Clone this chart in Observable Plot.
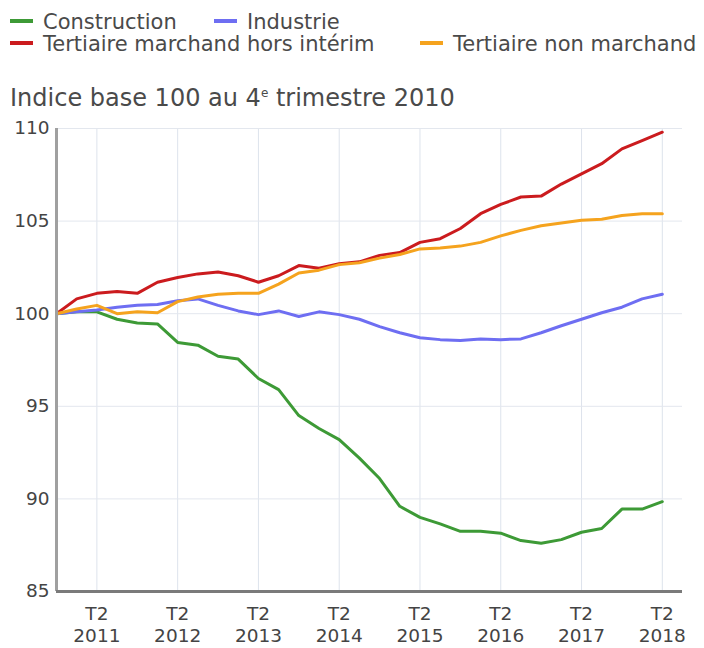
<!DOCTYPE html>
<html><head><meta charset="utf-8">
<script src="https://cdn.jsdelivr.net/npm/d3@7"></script>
<script src="https://cdn.jsdelivr.net/npm/@observablehq/plot@0.6"></script>
<style>
body{margin:0;background:#fff;font-family:"DejaVu Sans",sans-serif;color:#333;}
#wrap{position:relative;width:704px;height:648px;overflow:hidden;}
#head{position:relative;height:110px;}
.item{position:absolute;font-size:21px;line-height:24px;white-space:nowrap;color:#4a4a4a;}
.sw{display:inline-block;width:23px;height:4px;vertical-align:middle;margin-right:10px;position:relative;top:-2px;}
#sub{position:absolute;left:10px;top:79px;font-size:24px;line-height:28px;color:#4a4a4a;white-space:nowrap;}
#sub sup{font-size:12px;}
#chart{position:absolute;left:0;top:110px;}
</style></head><body>
<div id="wrap">
<div id="head"></div>
<div id="chart"></div>
</div>
<script>
const quarters = ["2010 T4","2011 T1","2011 T2","2011 T3","2011 T4","2012 T1","2012 T2","2012 T3","2012 T4",
  "2013 T1","2013 T2","2013 T3","2013 T4","2014 T1","2014 T2","2014 T3","2014 T4","2015 T1","2015 T2","2015 T3",
  "2015 T4","2016 T1","2016 T2","2016 T3","2016 T4","2017 T1","2017 T2","2017 T3","2017 T4","2018 T1","2018 T2"];
const seriesNames = ["Construction","Industrie","Tertiaire marchand hors intérim","Tertiaire non marchand"];
const seriesColors = ["#3d9a36","#6e6ef2","#cb1b1e","#f5a31e"];
const construction = [100,100.1,100.1,99.7,99.5,99.45,98.45,98.3,97.7,97.55,96.5,95.9,94.5,93.8,93.2,92.2,91.1,89.6,89.0,88.65,88.25,88.25,88.15,87.75,87.6,87.8,88.2,88.4,89.45,89.45,89.85];
const industrie = [100,100.1,100.2,100.35,100.45,100.5,100.7,100.8,100.45,100.15,99.95,100.15,99.85,100.1,99.95,99.7,99.3,98.97,98.7,98.6,98.55,98.64,98.6,98.64,98.97,99.35,99.7,100.05,100.35,100.8,101.05];
const tertMarchand = [100,100.8,101.1,101.2,101.1,101.7,101.95,102.15,102.25,102.05,101.7,102.05,102.6,102.45,102.7,102.8,103.15,103.3,103.85,104.05,104.6,105.4,105.9,106.3,106.35,107.0,107.55,108.1,108.9,109.35,109.8];
const tertNonMarchand = [100,100.25,100.45,100.0,100.1,100.05,100.65,100.9,101.05,101.1,101.1,101.6,102.2,102.35,102.65,102.75,103.0,103.2,103.5,103.55,103.65,103.85,104.2,104.5,104.75,104.9,105.05,105.1,105.3,105.4,105.4];
const yTicks = [85,90,95,100,105,110];
const xTickLabels = ["T2\n2011","T2\n2012","T2\n2013","T2\n2014","T2\n2015","T2\n2016","T2\n2017","T2\n2018"];

const seriesValues = [construction, industrie, tertMarchand, tertNonMarchand];
const data = seriesNames.flatMap((name, k) => seriesValues[k].map((v, i) => ({i, v, name, q: quarters[i]})));
const xTicks = quarters.map((q, i) => q.endsWith("T2") ? i : null).filter(d => d !== null);

// legend
const head = document.getElementById("head");
const legendPos = [[10,10],[214,10],[10,32],[420,32]];
seriesNames.forEach((n, k) => {
  const d = document.createElement("div");
  d.className = "item";
  d.style.left = legendPos[k][0] + "px";
  d.style.top = legendPos[k][1] + "px";
  d.innerHTML = `<span class="sw" style="background:${seriesColors[k]}"></span>${n}`;
  head.appendChild(d);
});
const sub = document.createElement("div");
sub.id = "sub";
sub.innerHTML = "Indice base 100 au 4<sup>e</sup> trimestre 2010";
head.appendChild(sub);

const chart = Plot.plot({
  width: 704,
  height: 538,
  marginTop: 18,
  marginBottom: 57,
  marginLeft: 56,
  marginRight: 22,
  style: {fontFamily: "DejaVu Sans, sans-serif", fontSize: "18px", color: "#444", background: "#fff"},
  x: {type: "linear", domain: [0, 31]},
  y: {domain: [85, 110]},
  color: {domain: seriesNames, range: seriesColors},
  marks: [
    Plot.gridX(xTicks, {stroke: "#dde3ec", strokeOpacity: 1, strokeWidth: 1}),
    Plot.gridY(yTicks, {stroke: "#e3e7ee", strokeOpacity: 1, strokeWidth: 1}),
    Plot.lineY(data, {x: "i", y: "v", stroke: "name", strokeWidth: 3, strokeLinejoin: "round"}),
    Plot.ruleX([0], {stroke: "#a0a0a0", strokeWidth: 3}),
    Plot.ruleY([85], {stroke: "#7a7a7a", strokeWidth: 3}),
    Plot.axisY(yTicks, {tickSize: 0, tickPadding: 7, label: null, fontSize: 18.5, fill: "#444"}),
    Plot.axisX(xTicks, {tickSize: 0, tickPadding: 13, label: null, fontSize: 18.5, fill: "#444", lineHeight: 1.2,
      tickFormat: (d) => xTickLabels[xTicks.indexOf(d)]})
  ]
});
document.getElementById("chart").appendChild(chart);
</script>
</body></html>
